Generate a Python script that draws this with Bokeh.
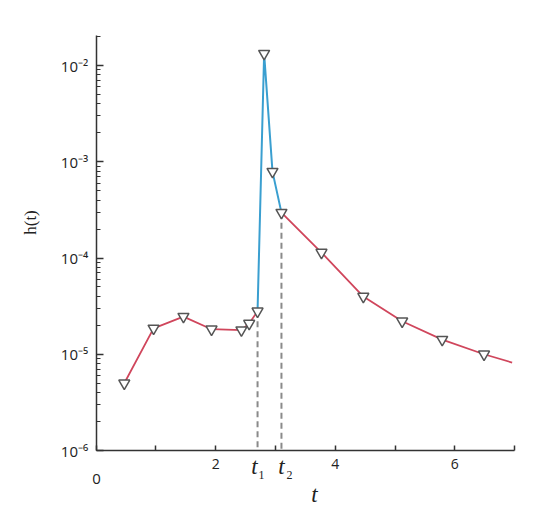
import math
from bokeh.plotting import figure
from bokeh.models import FixedTicker, LogTicker, CustomJSTickFormatter, Label
from bokeh.embed import file_html
from bokeh.resources import INLINE

# ---- data ----
t_vals = [0.47, 0.96, 1.46, 1.93, 2.43, 2.56, 2.70, 2.81, 2.95, 3.10, 3.77, 4.47, 5.12, 5.79, 6.49]
h_vals = [5.0e-6, 1.86e-5, 2.46e-5, 1.82e-5, 1.78e-5, 2.09e-5, 2.8e-5, 1.33e-2, 7.9e-4, 2.96e-4,
          1.14e-4, 3.98e-5, 2.2e-5, 1.42e-5, 1.0e-5]
tail_t = [6.96]
tail_h = [8.2e-6]
t1 = 2.70
t2 = 3.10
x_ticks = [0, 1, 2, 3, 4, 5, 6, 7]
x_tick_labels = {0: "", 1: "", 2: "2", 3: "", 4: "4", 5: "", 6: "6", 7: ""}
x_bounds = (0, 7)
y_bounds = (1e-6, 0.0205)

# ---- layout (pixel geometry of the canvas) ----
W, H = 540, 510
X0_PX, PX_PER_UNIT = 95.7, 59.76          # pixel of t=0, pixels per t unit
YREF_PX, PX_PER_DEC = 65.0, 96.25         # pixel of 1e-2, pixels per decade


def xd(px):
    return (px - X0_PX) / PX_PER_UNIT


def yd(py):
    return 10 ** (-2 - (py - YREF_PX) / PX_PER_DEC)


i1 = t_vals.index(t1)
i2 = t_vals.index(t2)

RED = "#d0465c"
BLUE = "#3a9fd0"
INK = "#222222"

p = figure(width=W, height=H, x_range=(xd(0), xd(W)), y_range=(yd(H), yd(0)), y_axis_type="log",
           output_backend="svg", toolbar_location=None,
           min_border_left=0, min_border_right=0, min_border_top=0, min_border_bottom=0)
p.outline_line_color = None
p.xgrid.visible = False
p.ygrid.visible = False

# dashed markers at t1, t2
p.segment(x0=[t1, t2], y0=[h_vals[i1], h_vals[i2]], x1=[t1, t2], y1=[y_bounds[0], y_bounds[0]],
          line_color="#8a8a8a", line_width=2, line_dash="6 4")

# red segments
p.line(t_vals[:i1 + 1], h_vals[:i1 + 1], line_color=RED, line_width=1.8)
p.line(t_vals[i2:] + tail_t, h_vals[i2:] + tail_h, line_color=RED, line_width=1.8)
# blue segment
p.line(t_vals[i1:i2 + 1], h_vals[i1:i2 + 1], line_color=BLUE, line_width=2)

p.scatter(t_vals, h_vals, marker="inverted_triangle", size=11, fill_color="white",
          line_color="#555555", line_width=1.5)

# axes
xa = p.xaxis[0]
xa.fixed_location = y_bounds[0]
xa.bounds = x_bounds
xa.ticker = FixedTicker(ticks=x_ticks)
xa.major_label_overrides = x_tick_labels
xa.major_tick_in = 5
xa.major_tick_out = 0
xa.minor_tick_line_color = None
xa.axis_line_color = "#333333"
xa.axis_line_width = 1.5
xa.major_tick_line_color = "#333333"
xa.major_tick_line_width = 1.5
xa.major_label_text_font = "Open Sans"
xa.major_label_text_font_size = "14px"
xa.major_label_text_color = INK
xa.major_label_standoff = 8

ya = p.yaxis[0]
ya.fixed_location = x_bounds[0]
ya.bounds = y_bounds
ya.ticker = LogTicker(num_minor_ticks=10)
ya.formatter = CustomJSTickFormatter(code="""
const e = Math.round(Math.log10(tick));
const sup = {'-':'\u207b','0':'\u2070','1':'\u00b9','2':'\u00b2','3':'\u00b3','4':'\u2074','5':'\u2075','6':'\u2076','7':'\u2077','8':'\u2078','9':'\u2079'};
return '10' + String(e).split('').map(c => sup[c]).join('');
""")
ya.major_tick_in = 7
ya.major_tick_out = 0
ya.minor_tick_in = 4
ya.minor_tick_out = 0
ya.axis_line_color = "#333333"
ya.axis_line_width = 1.5
ya.major_tick_line_color = "#333333"
ya.major_tick_line_width = 1.5
ya.minor_tick_line_color = "#333333"
ya.minor_tick_line_width = 1.2
ya.major_label_text_font = "Open Sans"
ya.major_label_text_font_size = "15px"
ya.major_label_text_color = INK
ya.major_label_standoff = 8

# texts
SERIF = "Liberation Serif"


def lab(px, py, text, size, font="Open Sans", style="normal", angle=0.0):
    p.add_layout(Label(x=xd(px), y=yd(py), text=text, text_font=font, text_font_style=style,
                       text_font_size=size, text_align="center", text_baseline="middle",
                       angle=angle, text_color=INK))


lab(96, 478, "0", "15px")
lab(30, 222, "h(t)", "17px", font=SERIF, angle=math.pi / 2)
lab(254, 466, "t", "23px", font=SERIF, style="italic")
lab(261, 474, "1", "12px", font=SERIF)
lab(281, 466, "t", "23px", font=SERIF, style="italic")
lab(289, 474, "2", "12px", font=SERIF)
lab(314, 494, "t", "23px", font=SERIF, style="italic")

open("out.html", "w").write(file_html(p, INLINE))
